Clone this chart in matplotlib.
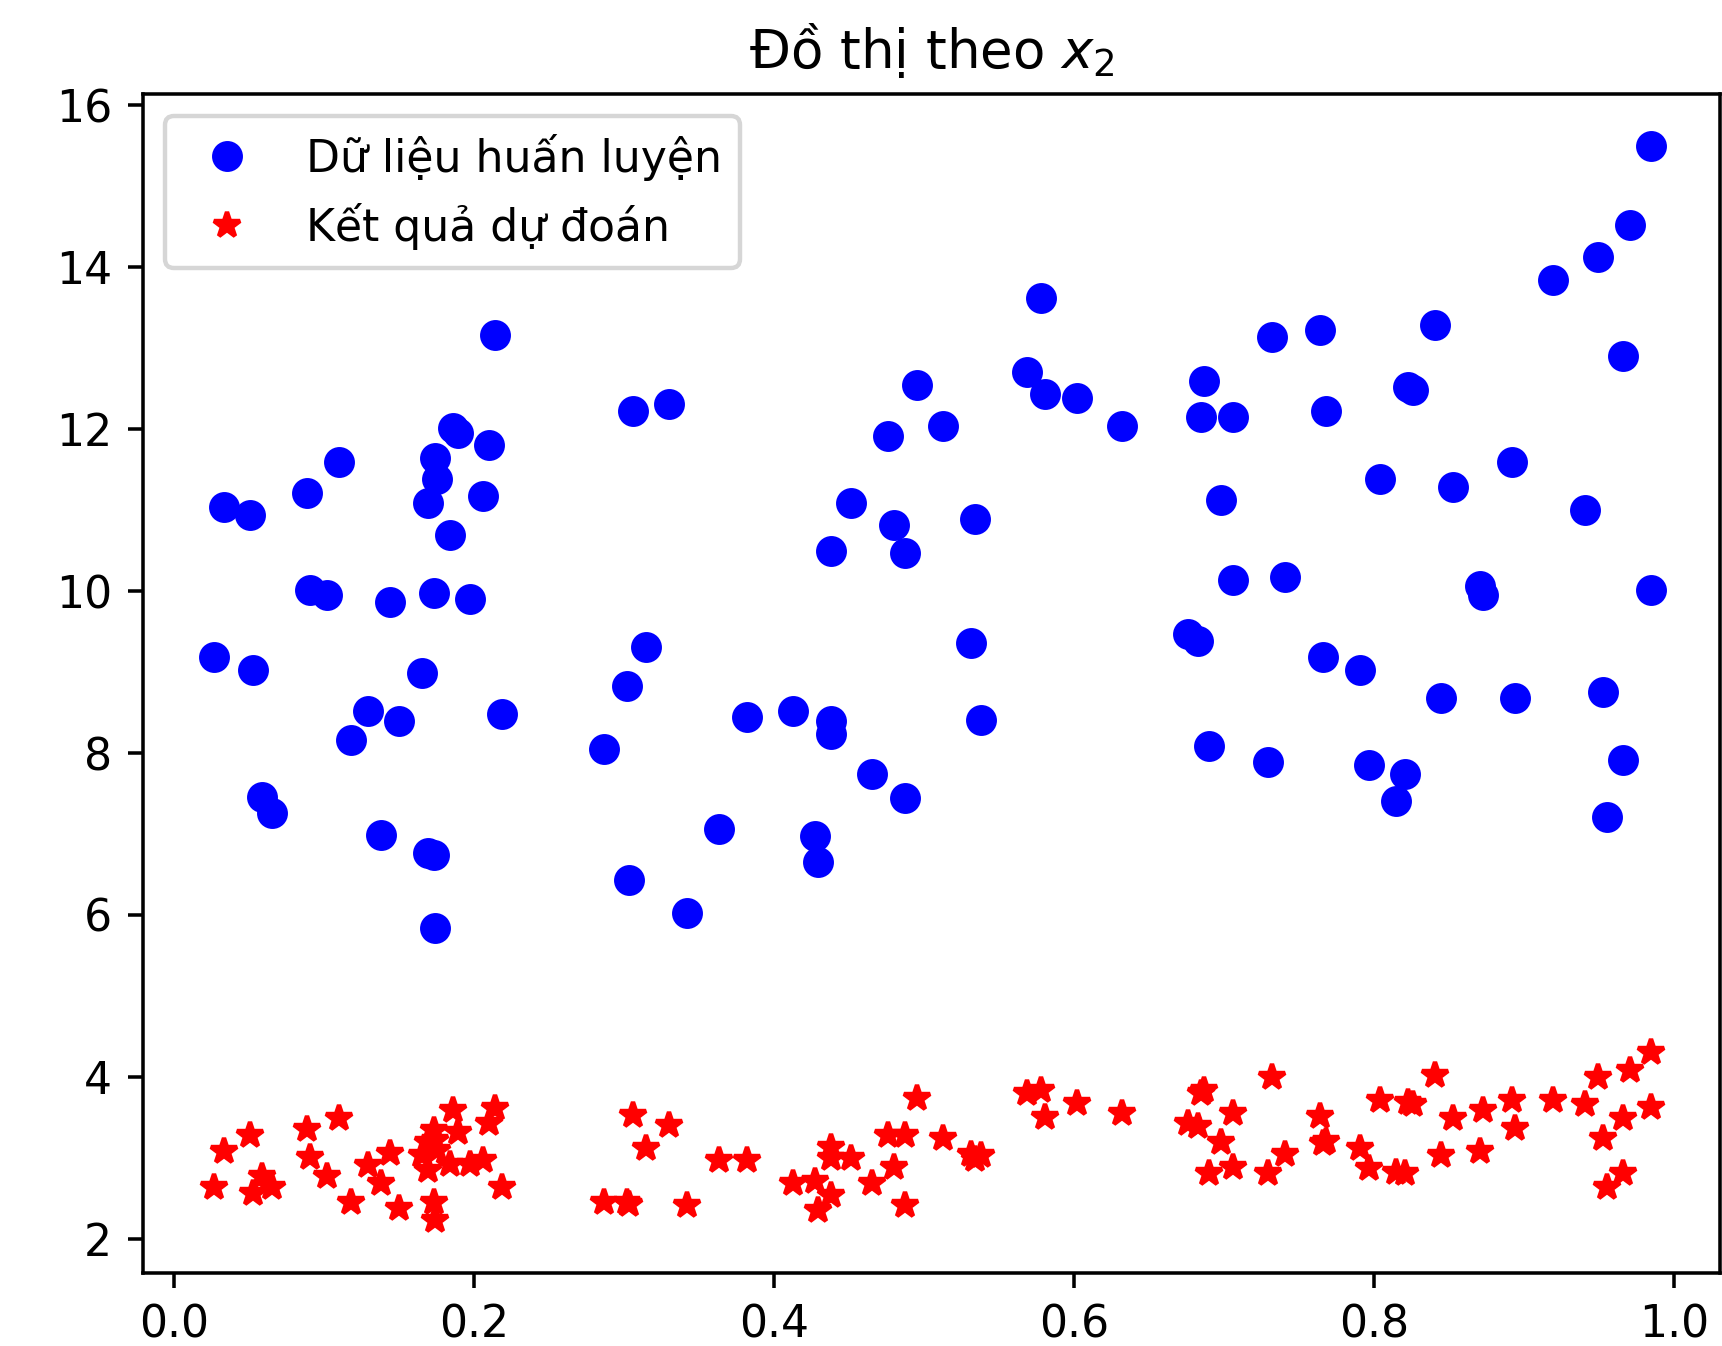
import numpy as np
import matplotlib
matplotlib.use('Agg')
import matplotlib.pyplot as plt

# x2 feature, training targets and predicted values
x2 = [0.214, 0.186, 0.189, 0.210, 0.174, 0.175, 0.169, 0.206, 0.184, 0.110,
      0.0885, 0.033, 0.0507, 0.0907, 0.1018, 0.144, 0.1735, 0.197, 0.0267, 0.0525,
      0.165, 0.129, 0.150, 0.118, 0.2185, 0.0585, 0.065, 0.138, 0.169, 0.173,
      0.174, 0.306, 0.330, 0.495, 0.476, 0.513, 0.451, 0.480, 0.438, 0.487,
      0.578, 0.569, 0.581, 0.602, 0.632, 0.534, 0.732, 0.764, 0.687, 0.685,
      0.706, 0.768, 0.698, 0.706, 0.741, 0.5315, 0.538, 0.676, 0.683, 0.690,
      0.7295, 0.766, 0.791, 0.797, 0.871, 0.873, 0.985, 0.845, 0.894, 0.953,
      0.821, 0.815, 0.966, 0.9555, 0.985, 0.9707, 0.9496, 0.9196, 0.8407, 0.966,
      0.823, 0.826, 0.804, 0.853, 0.8917, 0.941, 0.3147, 0.3018, 0.2867, 0.382,
      0.4125, 0.4378, 0.4378, 0.4655, 0.4873, 0.3633, 0.4273, 0.4295, 0.3035, 0.3422]

y_train = [13.16, 12.01, 11.95, 11.81, 11.64, 11.39, 11.09, 11.17, 10.69, 11.60,
           11.21, 11.04, 10.94, 10.01, 9.95, 9.86, 9.98, 9.90, 9.19, 9.03,
           8.99, 8.52, 8.40, 8.16, 8.48, 7.46, 7.26, 6.99, 6.76, 6.74,
           5.84, 12.22, 12.31, 12.55, 11.91, 12.04, 11.09, 10.82, 10.49, 10.47,
           13.62, 12.71, 12.44, 12.39, 12.04, 10.89, 13.14, 13.23, 12.59, 12.15,
           12.15, 12.23, 11.13, 10.14, 10.18, 9.36, 8.41, 9.47, 9.38, 8.09,
           7.89, 9.19, 9.03, 7.85, 10.06, 9.95, 10.02, 8.68, 8.68, 8.76,
           7.74, 7.41, 7.92, 7.21, 15.50, 14.52, 14.13, 13.84, 13.29, 12.90,
           12.52, 12.49, 11.39, 11.28, 11.60, 11.00, 9.31, 8.83, 8.05, 8.44,
           8.52, 8.40, 8.24, 7.74, 7.45, 7.06, 6.97, 6.66, 6.43, 6.03]

y_pred = [3.61, 3.59, 3.32, 3.43, 3.22, 3.10, 3.20, 2.97, 2.93, 3.49,
          3.36, 3.08, 3.28, 3.01, 2.77, 3.06, 3.34, 2.93, 2.64, 2.56,
          3.04, 2.91, 2.38, 2.46, 2.64, 2.77, 2.64, 2.69, 2.85, 2.46,
          2.23, 3.53, 3.41, 3.74, 3.28, 3.24, 3.00, 2.89, 3.00, 3.28,
          3.84, 3.80, 3.51, 3.68, 3.56, 2.98, 4.00, 3.52, 3.84, 3.80,
          3.55, 3.21, 3.20, 2.89, 3.05, 3.05, 3.03, 3.43, 3.39, 2.81,
          2.81, 3.18, 3.12, 2.87, 3.08, 3.59, 3.63, 3.04, 3.37, 3.24,
          2.81, 2.83, 2.81, 2.64, 4.31, 4.09, 4.00, 3.72, 4.02, 3.49,
          3.69, 3.67, 3.72, 3.49, 3.72, 3.67, 3.12, 2.46, 2.45, 2.97,
          2.69, 3.14, 2.54, 2.69, 2.42, 2.97, 2.71, 2.36, 2.43, 2.42]

W, H, DPI = 1722, 1346, 318
fig = plt.figure(figsize=(W / DPI, H / DPI), dpi=DPI)
ax = fig.add_axes([143 / W, 1 - 1273 / H, (1720 - 143) / W, (1273 - 94) / H])

ax.plot(x2, y_train, 'bo', label='Dữ liệu huấn luyện')
ax.plot(x2, y_pred, 'r*', label='Kết quả dự đoán')

ax.set_xlim(-0.0207, 1.0307)
ax.set_ylim(1.578, 16.14)
ax.set_yticks(np.arange(2, 17, 2))
ax.set_title('Đồ thị theo $x_2$')
ax.legend(loc='upper left')

fig.savefig('out.png', dpi=DPI)
